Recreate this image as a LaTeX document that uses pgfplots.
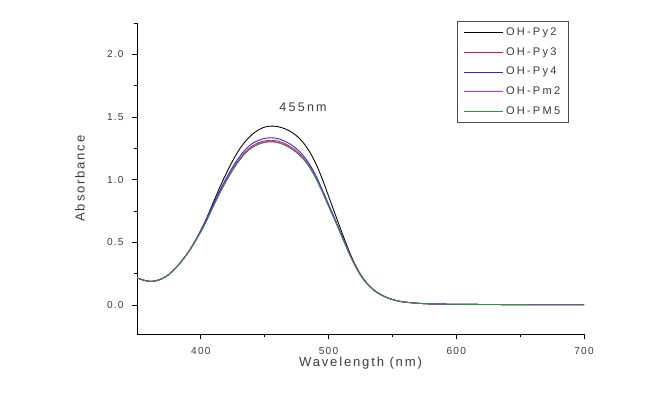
\documentclass[border=0pt]{standalone}
\usepackage{fontspec}
\setmainfont{Liberation Sans}
\usepackage{pgfplots}
\pgfplotsset{compat=1.18}
\definecolor{cRed}{RGB}{230,20,80}
\definecolor{cBlue}{RGB}{40,40,240}
\definecolor{cMag}{RGB}{230,30,230}
\definecolor{cGreen}{RGB}{40,150,60}
\definecolor{txt}{RGB}{60,60,60}
\newcommand{\tickfont}{\fontsize{7.6}{8}\selectfont\addfontfeatures{LetterSpace=12}}
\newcommand{\labfont}{\fontsize{9.8}{11}\selectfont\addfontfeatures{LetterSpace=14}}
\newcommand{\legfont}{\fontsize{8.3}{9}\selectfont\addfontfeatures{LetterSpace=20}}
\begin{document}
\begin{tikzpicture}
\useasboundingbox (0,0) rectangle (487.5pt,295.5pt);
\begin{axis}[
  at={(102.75pt,45pt)}, anchor=south west,
  scale only axis, width=335.25pt, height=233.25pt,
  xmin=350, xmax=700, ymin=-0.23, ymax=2.25,
  axis x line*=bottom, axis y line*=left,
  axis line style={line width=0.7pt},
  tick align=outside, major tick length=4pt, minor tick length=2.5pt,
  tick style={line width=0.6pt, black},
  xtick={400,500,600,700}, minor xtick={450,550,650},
  ytick={0,0.5,1,1.5,2}, minor ytick={0.25,0.75,1.25,1.75,2.25},
  yticklabels={0.0,0.5,1.0,1.5,2.0},
  /pgf/number format/assume math mode=true,
  ticklabel style={font=\tickfont, text=txt},
  yticklabel style={xshift=-2.5pt},
  xticklabel style={yshift=-2.5pt},
  xlabel={Wavelength (nm)}, ylabel={Absorbance},
  label style={font=\labfont, text=txt},
  xlabel style={at={(axis description cs:0.5,-0.093)}, anchor=center},
  ylabel style={at={(axis description cs:-0.1275,0.5)}, anchor=center},
  legend style={at={(0.967,1.0064)}, anchor=north east, draw=black!70, line width=0.6pt,
    font=\legfont, text=txt, inner xsep=4.5pt, inner ysep=3pt, row sep=3.4pt,
    cells={anchor=west}},
  legend image code/.code={\draw[#1, line width=0.75pt] (0pt,0pt) -- (29pt,0pt);},
  every axis plot/.append style={line width=0.65pt, mark=none, smooth},
]
% OH-Py2
\addplot[draw=black] coordinates {
(350,0.218)(355,0.200)(360,0.190)(365,0.195)(370,0.213)(375,0.245)(380,0.293)(385,0.352)(390,0.420)(395,0.502)
(400,0.595)(405,0.705)(410,0.826)(415,0.943)(420,1.053)(425,1.153)(430,1.240)(435,1.308)(440,1.360)(445,1.397)
(450,1.420)(455,1.428)(460,1.424)(465,1.410)(470,1.386)(475,1.350)(480,1.298)(485,1.226)(490,1.130)(495,1.008)
(500,0.870)(505,0.730)(510,0.592)(515,0.458)(520,0.340)(525,0.246)(530,0.176)(535,0.126)(540,0.090)(545,0.064)
(550,0.045)(555,0.032)(560,0.024)(570,0.015)(580,0.010)(600,0.007)(650,0.004)(700,0.003)};
\addlegendentry{OH-Py2\hspace{3pt}}
% OH-Py3
\addplot[draw=cRed] coordinates {
(350,0.218)(355,0.200)(360,0.190)(365,0.195)(370,0.213)(375,0.245)(380,0.293)(385,0.352)(390,0.420)(395,0.500)
(400,0.590)(405,0.690)(410,0.800)(415,0.905)(420,1.000)(425,1.088)(430,1.163)(435,1.225)(440,1.268)(445,1.295)
(450,1.310)(455,1.315)(460,1.309)(465,1.292)(470,1.265)(475,1.228)(480,1.178)(485,1.110)(490,1.022)(495,0.912)
(500,0.795)(505,0.680)(510,0.560)(515,0.440)(520,0.330)(525,0.240)(530,0.172)(535,0.123)(540,0.088)(545,0.063)
(550,0.045)(555,0.032)(560,0.024)(570,0.015)(580,0.010)(600,0.007)(650,0.004)(700,0.003)};
\addlegendentry{OH-Py3}
% OH-Py4
\addplot[draw=cBlue] coordinates {
(350,0.218)(355,0.200)(360,0.190)(365,0.195)(370,0.213)(375,0.245)(380,0.293)(385,0.352)(390,0.420)(395,0.503)
(400,0.598)(405,0.700)(410,0.812)(415,0.918)(420,1.015)(425,1.104)(430,1.180)(435,1.243)(440,1.287)(445,1.314)
(450,1.330)(455,1.335)(460,1.329)(465,1.311)(470,1.284)(475,1.246)(480,1.195)(485,1.125)(490,1.035)(495,0.923)
(500,0.805)(505,0.688)(510,0.567)(515,0.445)(520,0.334)(525,0.242)(530,0.173)(535,0.123)(540,0.088)(545,0.063)
(550,0.045)(555,0.032)(560,0.024)(570,0.015)(580,0.010)(600,0.007)(650,0.004)(700,0.003)};
\addlegendentry{OH-Py4}
% OH-Pm2
\addplot[draw=cMag] coordinates {
(350,0.218)(355,0.200)(360,0.190)(365,0.195)(370,0.213)(375,0.245)(380,0.293)(385,0.352)(390,0.419)(395,0.498)
(400,0.586)(405,0.685)(410,0.795)(415,0.899)(420,0.993)(425,1.080)(430,1.155)(435,1.216)(440,1.259)(445,1.286)
(450,1.301)(455,1.306)(460,1.300)(465,1.283)(470,1.256)(475,1.219)(480,1.170)(485,1.103)(490,1.015)(495,0.907)
(500,0.790)(505,0.676)(510,0.557)(515,0.438)(520,0.329)(525,0.240)(530,0.172)(535,0.123)(540,0.088)(545,0.063)
(550,0.045)(555,0.032)(560,0.024)(570,0.015)(580,0.010)(600,0.007)(650,0.004)(700,0.003)};
\addlegendentry{OH-Pm2}
% OH-PM5
\addplot[draw=cGreen] coordinates {
(350,0.218)(355,0.200)(360,0.190)(365,0.195)(370,0.213)(375,0.245)(380,0.293)(385,0.352)(390,0.419)(395,0.497)
(400,0.584)(405,0.683)(410,0.792)(415,0.896)(420,0.990)(425,1.077)(430,1.151)(435,1.213)(440,1.255)(445,1.282)
(450,1.297)(455,1.302)(460,1.296)(465,1.279)(470,1.252)(475,1.216)(480,1.167)(485,1.100)(490,1.012)(495,0.904)
(500,0.788)(505,0.674)(510,0.556)(515,0.437)(520,0.328)(525,0.239)(530,0.172)(535,0.123)(540,0.088)(545,0.063)
(550,0.045)(555,0.032)(560,0.024)(570,0.015)(580,0.010)(600,0.007)(650,0.004)(700,0.003)};
\addlegendentry{OH-PM5}
\node[font=\fontsize{9.4}{11}\selectfont\addfontfeatures{LetterSpace=18}, text=txt] at (axis cs:480,1.576) {455nm};
\end{axis}
\end{tikzpicture}
\end{document}
